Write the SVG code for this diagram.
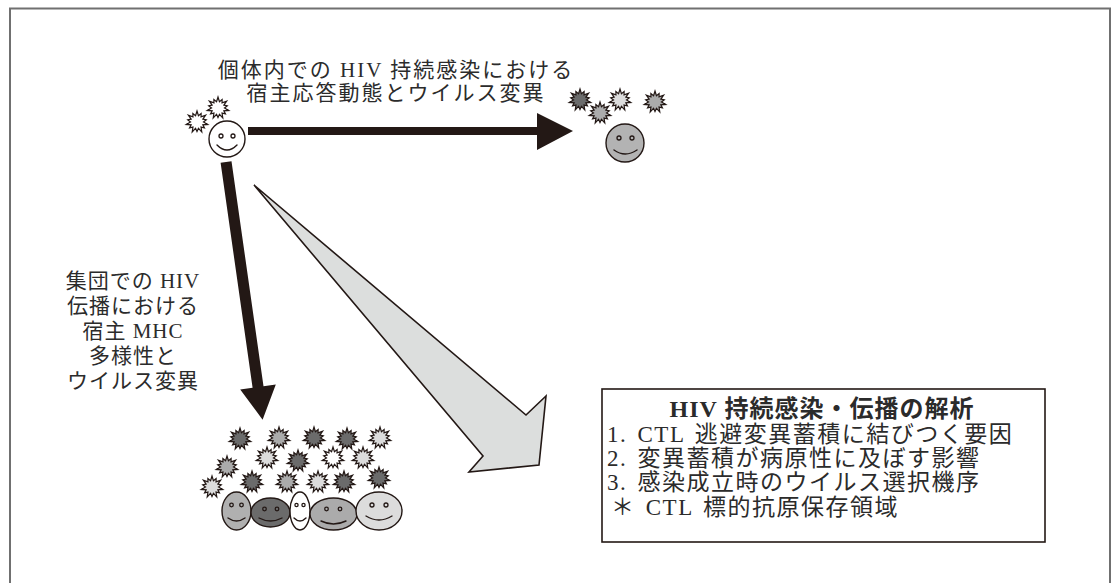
<svg xmlns="http://www.w3.org/2000/svg" xmlns:xlink="http://www.w3.org/1999/xlink" width="1114" height="583" viewBox="0 0 1114 583">
  <style>
    .lbl { font-family: "Liberation Serif", "Noto Sans CJK JP", serif; fill: #2b2b2b; }
    .face { stroke: #231815; stroke-width: 1.4; }
    .eye { fill: none; stroke: #231815; stroke-width: 1.3; }
    .smile { fill: none; stroke: #231815; stroke-width: 1.4; stroke-linecap: round; }
    .dk { fill: #6b6b6b; }
    .md { fill: #ababab; }
    .lt { fill: #dcdcdc; }
    .wh { fill: #ffffff; }
    .arrow { fill: #231815; }
  </style>
  <defs>
    <!-- spiky virus particle, fill set per use -->
    <path id="virus" stroke="#231815" stroke-width="1.2" stroke-linejoin="miter"
      d="M0,-11 L1.45,-6.34 L4.12,-8.56 L4.05,-5.08 L8.6,-6.86 L5.86,-2.82 L9.26,-2.11 L6.5,0 L10.72,2.45 L5.86,2.82 L7.43,5.92 L4.05,5.08 L4.77,9.91 L1.45,6.34 L0,9.5 L-1.45,6.34 L-4.77,9.91 L-4.05,5.08 L-7.43,5.92 L-5.86,2.82 L-10.72,2.45 L-6.5,0 L-9.26,-2.11 L-5.86,-2.82 L-8.6,-6.86 L-4.05,-5.08 L-4.12,-8.56 L-1.45,-6.34 Z"/>
  </defs>

  <rect width="1114" height="583" fill="#ffffff"/>
  <!-- outer frame -->
  <path d="M10,583 V8.5 H1110 V583" fill="none" stroke="#707070" stroke-width="2"/>

  <!-- connectors -->
  <g id="connectors">
    <path class="arrow" d="M248,127 H537 V113 L573,131 L537,150 V135 H248 Z"/>
    <path class="arrow" d="M220.6,162.8 L231.5,161.2 L263.5,386.2 L275.8,384.5 L262.6,419.7 L240.2,389.5 L252.6,387.8 Z"/>
    <path d="M254,185 L526,415 L546,396 L539,465 L469,472 L483,456 Z" fill="#dcdedd" stroke="#231815" stroke-width="1.6" stroke-linejoin="miter"/>
  </g>

  <!-- single host, start -->
  <g id="host-start">
    <use xlink:href="#virus" class="wh" x="197" y="122"/>
    <use xlink:href="#virus" class="wh" x="218" y="108"/>
    <circle class="face wh" cx="227" cy="139" r="18"/>
    <circle class="eye" cx="221" cy="136" r="2"/>
    <circle class="eye" cx="233" cy="136" r="2"/>
    <path class="smile" d="M217,145 Q227,155 237,145"/>
  </g>

  <!-- single host, later -->
  <g id="host-later">
    <use xlink:href="#virus" class="dk" x="580" y="100"/>
    <use xlink:href="#virus" class="md" x="600" y="113"/>
    <use xlink:href="#virus" class="lt" x="620" y="100"/>
    <use xlink:href="#virus" class="md" x="655" y="102"/>
    <circle class="face" cx="625" cy="143" r="19" fill="#b3b3b3"/>
    <circle class="eye" cx="619" cy="138" r="2"/>
    <circle class="eye" cx="632" cy="138" r="2"/>
    <path class="smile" d="M614,150 Q625,158 637,150"/>
  </g>

  <!-- host population -->
  <g id="population">
    <use xlink:href="#virus" class="dk" x="240" y="439"/>
    <use xlink:href="#virus" class="md" x="279" y="438"/>
    <use xlink:href="#virus" class="dk" x="314" y="438"/>
    <use xlink:href="#virus" class="dk" x="347" y="439"/>
    <use xlink:href="#virus" class="lt" x="380" y="438"/>
    <use xlink:href="#virus" class="lt" x="267" y="458"/>
    <use xlink:href="#virus" class="dk" x="298" y="461"/>
    <use xlink:href="#virus" class="wh" x="333" y="458"/>
    <use xlink:href="#virus" class="lt" x="363" y="458"/>
    <use xlink:href="#virus" class="md" x="227" y="467"/>
    <use xlink:href="#virus" class="lt" x="212" y="487"/>
    <use xlink:href="#virus" class="dk" x="252" y="482"/>
    <use xlink:href="#virus" class="md" x="287" y="482"/>
    <use xlink:href="#virus" class="lt" x="318" y="482"/>
    <use xlink:href="#virus" class="dk" x="344" y="482"/>
    <use xlink:href="#virus" class="dk" x="379" y="478"/>

    <ellipse class="face" cx="236.5" cy="511" rx="14.5" ry="19" fill="#b0b0b0"/>
    <circle class="eye" cx="231.5" cy="505" r="1.8"/>
    <circle class="eye" cx="241.5" cy="505" r="1.8"/>
    <path class="smile" d="M228,518 Q236.5,524 245,518"/>

    <ellipse class="face" cx="270.5" cy="512.5" rx="19.5" ry="14.5" fill="#6b6b6b"/>
    <circle class="eye" cx="264.5" cy="509" r="1.8"/>
    <circle class="eye" cx="277" cy="509" r="1.8"/>
    <path class="smile" d="M259,518 Q270.5,524 282,518"/>

    <ellipse class="face" cx="300" cy="511" rx="10" ry="19" fill="#ffffff"/>
    <circle class="eye" cx="296.5" cy="505" r="1.6"/>
    <circle class="eye" cx="303.5" cy="505" r="1.6"/>
    <path class="smile" d="M294,518 Q300,524 306,518"/>

    <ellipse class="face" cx="333.5" cy="514" rx="23.5" ry="16" fill="#ababab"/>
    <circle class="eye" cx="326.5" cy="509" r="1.8"/>
    <circle class="eye" cx="340" cy="509" r="1.8"/>
    <path class="smile" d="M321,521 Q333.5,527 346,521"/>

    <ellipse class="face" cx="379" cy="511" rx="23" ry="19" fill="#dcdcdc"/>
    <circle class="eye" cx="372" cy="505" r="2"/>
    <circle class="eye" cx="386" cy="505" r="2"/>
    <path class="smile" d="M366,516 Q379,524 392,516"/>
  </g>

  <!-- labels -->
  <g id="label-within-host">
    <text class="lbl" font-size="21" letter-spacing="2" text-anchor="middle" x="396" y="77">個体内での HIV 持続感染における</text>
    <text class="lbl" font-size="21" letter-spacing="2" text-anchor="middle" x="396" y="100">宿主応答動態とウイルス変異</text>
  </g>

  <g id="label-population">
    <text class="lbl" font-size="21" letter-spacing="1" text-anchor="middle" x="133" y="288">集団での HIV</text>
    <text class="lbl" font-size="21" letter-spacing="1" text-anchor="middle" x="133" y="313">伝播における</text>
    <text class="lbl" font-size="21" letter-spacing="1" text-anchor="middle" x="133" y="338">宿主 MHC</text>
    <text class="lbl" font-size="21" letter-spacing="1" text-anchor="middle" x="133" y="363">多様性と</text>
    <text class="lbl" font-size="21" letter-spacing="1" text-anchor="middle" x="133" y="388">ウイルス変異</text>
  </g>

  <g id="analysis-box">
    <rect x="602" y="389" width="443" height="153" fill="#ffffff" stroke="#231815" stroke-width="1.6"/>
    <text class="lbl" font-size="24" font-weight="bold" letter-spacing="1" text-anchor="middle" x="822" y="417">HIV 持続感染・伝播の解析</text>
    <text class="lbl" font-size="23" letter-spacing="1.5" word-spacing="3" x="607" y="442">1. CTL 逃避変異蓄積に結びつく要因</text>
    <text class="lbl" font-size="23" letter-spacing="1.5" word-spacing="3" x="607" y="466">2. 変異蓄積が病原性に及ぼす影響</text>
    <text class="lbl" font-size="23" letter-spacing="1.5" word-spacing="3" x="607" y="490">3. 感染成立時のウイルス選択機序</text>
    <text class="lbl" font-size="23" letter-spacing="1.5" word-spacing="3" x="611" y="515">＊ CTL 標的抗原保存領域</text>
  </g>
</svg>
